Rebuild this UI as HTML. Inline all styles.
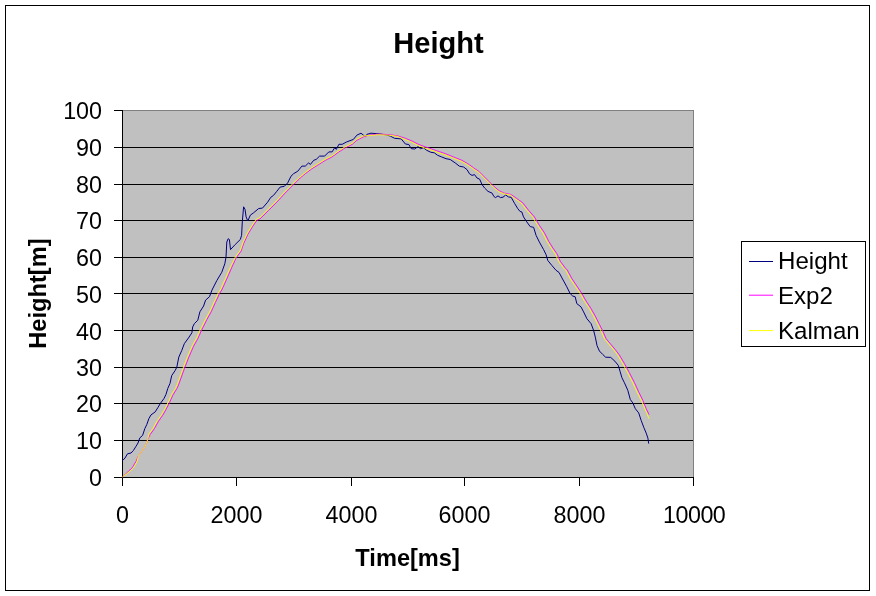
<!DOCTYPE html>
<html><head><meta charset="utf-8"><title>Height</title>
<style>
html,body{margin:0;padding:0;background:#fff;}
body{width:876px;height:596px;overflow:hidden;}
svg{display:block;}
text{font-family:"Liberation Sans",sans-serif;fill:#000;}
.ax{font-size:23.3px;}
.b{font-weight:bold;}
</style></head><body>
<svg width="876" height="596" viewBox="0 0 876 596">
<rect x="0" y="0" width="876" height="596" fill="#fff"/>
<rect x="5.5" y="5.5" width="864" height="585" fill="#fff" stroke="#000" stroke-width="1" shape-rendering="crispEdges"/>
<rect x="123" y="110" width="571" height="367" fill="#c0c0c0"/>
<g shape-rendering="crispEdges" stroke="#808080" stroke-width="1">
<line x1="123" y1="110.5" x2="694" y2="110.5"/>
<line x1="693.5" y1="110" x2="693.5" y2="477"/>
</g>
<g shape-rendering="crispEdges" stroke="#000" stroke-width="1">
<line x1="114" y1="147.5" x2="693" y2="147.5"/>
<line x1="114" y1="184.5" x2="693" y2="184.5"/>
<line x1="114" y1="220.5" x2="693" y2="220.5"/>
<line x1="114" y1="257.5" x2="693" y2="257.5"/>
<line x1="114" y1="293.5" x2="693" y2="293.5"/>
<line x1="114" y1="330.5" x2="693" y2="330.5"/>
<line x1="114" y1="367.5" x2="693" y2="367.5"/>
<line x1="114" y1="403.5" x2="693" y2="403.5"/>
<line x1="114" y1="440.5" x2="693" y2="440.5"/>
<line x1="114" y1="110.5" x2="123" y2="110.5"/>
<line x1="114" y1="477.5" x2="694" y2="477.5"/>
<line x1="122.5" y1="110" x2="122.5" y2="486"/>
<line x1="236.5" y1="477" x2="236.5" y2="486"/>
<line x1="351.5" y1="477" x2="351.5" y2="486"/>
<line x1="464.5" y1="477" x2="464.5" y2="486"/>
<line x1="579.5" y1="477" x2="579.5" y2="486"/>
<line x1="693.5" y1="477" x2="693.5" y2="486"/>
</g>
<g fill="none" stroke-width="0.9" stroke-linejoin="round">
<polyline stroke="#000080" stroke-width="1" points="122.5,460.5 123,460.2 125,458 127.5,453.8 131,453 133.4,450.5 136,446.3 138,443 139.8,437.9 142.6,435.4 144.8,428.7 146.8,424.5 148.9,418.6 151,414.9 155.2,411.9 157.8,407.7 160.3,403.5 164,398.5 166,394.3 167.8,388.4 170,383.4 171.7,375.6 175.1,370.6 176.8,367.2 178.8,357.1 181.8,350.4 184.3,343.7 188.5,337.9 191.9,332.8 192.7,326.9 194.4,323.6 197.8,320.2 199.9,311.8 203.6,306 205.6,300.1 209.5,296.7 212,290 216.8,280.6 221.8,272.2 224.8,263.8 226,257.1 226.8,242 228.2,238.7 229.4,239.5 230.5,249.6 235.2,244.5 240.3,239.5 241.6,235.3 242.3,221.9 243.6,206.8 245,209.3 246.1,216.8 247.8,221 250.3,215.2 253.7,212.7 258.7,208.5 262.5,208.1 267.6,202.2 270.9,197.2 273.4,195.5 276.8,191.3 280.1,187.1 284.3,186.3 287.7,182.9 291,176.2 293.6,173.7 297.8,171.2 301.9,166.1 305.3,166.1 308.7,162.8 310.3,164.5 313.7,160.3 316.2,159.4 319.6,156.1 324.6,156.1 328.8,151.9 332.1,151.9 334.7,147.7 336.3,149.4 338.9,144.3 342.2,144.3 346.7,141.9 353.4,139.4 356.8,135.2 361,133.2 365.2,136.6 366.8,134.4 371,133.2 376.1,133.6 381.1,134.1 386.1,134.9 390.3,136.1 394.5,138.3 401.2,138.9 405.4,144 408.8,144.5 411.3,148.7 414.7,149 418,146.6 420.5,148.7 423.4,147.8 426.7,150.3 430.9,152.3 434.3,152.8 437.6,155.3 441.8,157 446,158.7 450.2,159.5 455.2,162.9 459.4,166.2 463.6,167 467,169.6 469.5,173.8 472,175.4 474.5,174.6 477,178 479.6,179.1 482.1,184.7 484.6,188 488,191.4 492.1,193.1 493.8,196.4 495.5,197.6 498,195.9 500.5,197.6 503,197.2 505.7,195 508.6,197 511.2,197.3 514.5,203.3 517.8,208.7 520.1,211.5 521.8,211.9 523.5,216.9 526.8,221.9 530.2,226.6 533.6,227.3 536.1,235.4 539.4,242.1 543.6,249.6 546.1,254.7 547.8,260.5 552,265.6 556,270.3 559,272.4 562,278 566.8,286.8 570.1,293.5 572.7,296 575.2,296.8 576.8,303.6 581,306.9 583.6,311.9 586.9,318.7 591.1,323.7 593.6,330.4 595.3,337.1 597,345.5 599.4,351 602.8,354.5 605.6,357.2 610.7,357.4 614.9,361.2 618.3,365.4 620.2,371.8 621.9,377.7 624.4,382.7 627.8,390.3 630.3,399.5 632.8,402.9 635.3,408.7 638.7,412.9 641.2,420.5 643.7,427.2 646.2,433.1 647.9,438.1 648.7,443.6"/>
<polyline stroke="#ff00ff" points="122.5,476.8 123,476.5 128.4,471.4 132.6,467.2 136,461.4 138.5,455.5 141.8,451.3 145.2,446.3 147.7,439.6 150.2,434.5 154.4,428.7 158.6,421.1 162.8,415.2 166.1,409.4 169.5,402.7 172.9,395.1 177,388.4 178.5,385 184.3,368.9 188.5,358 193.6,346.2 197.8,338.7 201.9,329.5 207,319.4 211.2,311.8 215.4,302.6 219.6,293.4 221.8,290 226.8,278.9 231.9,267.2 236.1,258 241.1,251.2 243.6,243.7 247.8,234.5 252.9,226.1 257,220.2 260,219 268.4,210.6 276.8,202.2 285.2,193 293.6,184.6 300.3,177.9 305.3,173.7 312,168.7 318.7,164.5 325.4,160.3 332.1,156.9 338.9,151.9 345.6,147.7 352.3,144.3 356.8,140.3 363.5,136.9 370.2,134.9 378.6,134.1 388.7,134.6 397,135.7 405.4,138.3 412.1,141.1 418.9,144.5 425.6,147 428.4,147.8 436.8,150.8 445.2,153.6 453.6,157 461.9,160.3 467.8,163.7 473.7,167.9 478.7,171.2 483.8,176.3 488.8,181.3 493.8,186.3 498.9,190.5 503.9,193 510.9,194.5 516.8,198.5 522.7,202.7 528.5,210.2 534.4,216.9 539.4,225.3 544.5,232.9 548.7,241.2 552.9,248 557,253.8 560.4,261.4 565.4,268.1 567.3,270 571.8,278.4 576.8,285.9 581.9,293.5 586.1,301 591.1,308.6 595.3,316.1 599.5,324.5 602.9,331.2 606.2,338.8 610.4,343.8 615.4,349.7 619.4,355 624.4,363.4 629.4,372.7 634.5,382.7 638.7,391.9 642.9,400.3 646.2,408.7 649.1,414.6"/>
<polyline stroke="#ffff00" points="122.5,476.8 123,476.5 129.3,471.9 133.5,467.7 136.9,461.9 138.5,455.5 141.8,451.3 145.2,446.3 147.7,439.6 148.9,434.0 153.1,428.2 157.3,420.6 161.5,414.7 164.8,408.9 168.2,402.2 171.6,394.6 175.7,387.9 177.2,384.5 183.0,368.4 187.2,357.5 192.3,345.7 196.5,338.2 200.6,329.0 205.7,318.9 209.9,311.3 214.1,302.1 218.3,292.9 220.5,289.5 225.5,278.4 230.6,266.7 235.4,257.0 240.4,250.2 242.9,242.7 247.1,233.5 252.2,225.1 256.3,219.2 259.3,218.0 267.7,209.6 276.1,201.2 284.5,192.0 292.9,183.6 300.0,176.9 305.0,172.7 311.7,167.7 318.4,163.5 325.1,159.3 331.8,155.9 338.6,150.9 345.3,146.7 352.0,143.3 356.5,139.3 363.2,135.9 370.2,135.5 378.6,134.7 388.7,135.2 397,136.3 405.4,139.6 412.1,142.4 418.9,145.8 425.6,148.3 428.4,149.1 436.8,152.1 445.2,154.9 453.6,158.3 461.9,161.6 467.8,165.0 473.7,169.2 478.7,172.5 483.8,177.6 488.8,182.6 493.8,187.6 498.9,191.8 503.4,193.6 510.4,195.1 515.2,198.8 521.1,203.0 526.9,210.5 532.8,217.2 537.8,225.6 542.9,233.2 547.1,241.5 551.3,248.3 555.4,254.1 558.8,261.7 563.8,268.4 565.7,270.3 570.2,278.7 575.2,286.2 580.3,293.8 584.5,301.3 589.5,308.9 593.7,316.4 597.9,324.8 601.3,331.5 604.6,339.1 608.8,344.1 613.8,350.0 617.8,355.3 622.8,363.7 627.8,373.0 632.9,383.0 637.1,392.2 641.9,401.8 646.0,411.5 649.1,418.8"/>
</g>
<text class="ax" x="102" y="119.0" text-anchor="end">100</text>
<text class="ax" x="102" y="156.0" text-anchor="end">90</text>
<text class="ax" x="102" y="193.0" text-anchor="end">80</text>
<text class="ax" x="102" y="229.0" text-anchor="end">70</text>
<text class="ax" x="102" y="266.0" text-anchor="end">60</text>
<text class="ax" x="102" y="302.8" text-anchor="end">50</text>
<text class="ax" x="102" y="339.8" text-anchor="end">40</text>
<text class="ax" x="102" y="376.0" text-anchor="end">30</text>
<text class="ax" x="102" y="412.0" text-anchor="end">20</text>
<text class="ax" x="102" y="449.0" text-anchor="end">10</text>
<text class="ax" x="102" y="486.0" text-anchor="end">0</text>
<text class="ax" x="122.5" y="523" text-anchor="middle">0</text>
<text class="ax" x="236.5" y="523" text-anchor="middle">2000</text>
<text class="ax" x="351.5" y="523" text-anchor="middle">4000</text>
<text class="ax" x="464.5" y="523" text-anchor="middle">6000</text>
<text class="ax" x="579.5" y="523" text-anchor="middle">8000</text>
<text class="ax" x="694.2" y="523" text-anchor="middle" letter-spacing="-0.5">10000</text>
<text class="b" x="438.5" y="53" font-size="29.1" text-anchor="middle">Height</text>
<text class="b" font-size="23.6" x="407.6" y="566.3" text-anchor="middle">Time[ms]</text>
<text class="b" font-size="23.7" transform="translate(46,293.6) rotate(-90)" text-anchor="middle">Height[m]</text>
<rect x="741.5" y="241.5" width="124" height="105" fill="#fff" stroke="#000" stroke-width="1" shape-rendering="crispEdges"/>
<line x1="749" y1="261.5" x2="773" y2="261.5" stroke="#000080" stroke-width="1"/>
<text x="778" y="268.8" font-size="24.1">Height</text>
<line x1="749" y1="295.2" x2="773" y2="295.2" stroke="#ff00ff" stroke-width="1"/>
<text x="778" y="303.8" font-size="24.1">Exp2</text>
<line x1="749" y1="330.6" x2="773" y2="330.6" stroke="#ffff00" stroke-width="1"/>
<text x="778" y="338.8" font-size="24.1">Kalman</text>
</svg></body></html>
